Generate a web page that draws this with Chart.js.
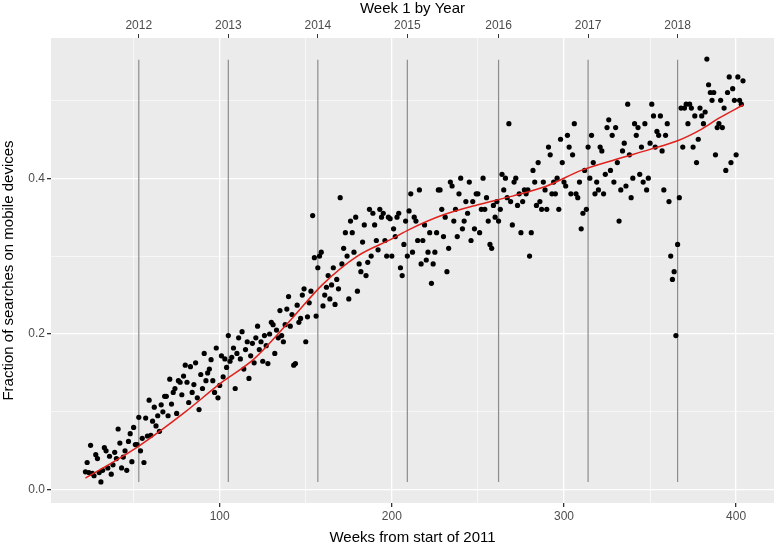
<!DOCTYPE html>
<html><head><meta charset="utf-8">
<script src="https://cdn.jsdelivr.net/npm/chart.js@4/dist/chart.umd.min.js"></script>
<style>html,body{margin:0;padding:0;background:#fff}#c{display:block}</style>
</head><body><canvas id="c" width="778" height="547"></canvas>
<script>
const firstWeek = 22;
const fractionValues = [
.023,.035,.022,.057,.021,.018,.045,.040,.022,.010,
.025,.054,.050,.028,.043,.020,.032,.048,.040,.078,
.060,.028,.042,.050,.025,.062,.072,.036,.080,.058,
.058,.093,.050,.066,.035,.092,.069,.115,.070,.088,
.106,.082,.095,.075,.109,.100,.120,.120,.095,.142,
.110,.125,.130,.098,.140,.138,.122,.146,.160,.138,
.112,.158,.125,.135,.163,.118,.103,.148,.130,.175,
.140,.150,.155,.167,.140,.125,.182,.118,.134,.172,
.145,.168,.157,.198,.165,.170,.182,.130,.175,.195,
.168,.203,.155,.180,.190,.143,.172,.188,.163,.195,
.210,.180,.190,.165,.198,.185,.162,.200,.215,.212,
.175,.205,.195,.230,.198,.190,.212,.232,.248,.210,
.225,.160,.162,.237,.215,.220,.250,.258,.190,.222,
.240,.255,.352,.298,.223,.285,.300,.305,.236,.250,
.260,.275,.245,.263,.285,.238,.270,.258,.375,.290,
.310,.330,.300,.245,.345,.330,.305,.350,.255,.290,
.280,.318,.340,.275,.292,.360,.300,.355,.340,.320,
.308,.360,.350,.355,.320,.300,.350,.348,.300,.335,
.325,.350,.355,.285,.275,.315,.345,.300,.358,.380,
.305,.350,.345,.320,.385,.290,.320,.340,.295,.305,
.330,.265,.290,.305,.330,.385,.385,.360,.325,.350,
.280,.310,.395,.390,.345,.360,.325,.380,.400,.335,
.345,.370,.355,.395,.320,.370,.335,.380,.380,.330,
.360,.400,.360,.375,.345,.315,.310,.365,.350,.370,
.345,.360,.405,.385,.400,.375,.470,.370,.340,.395,
.400,.365,.380,.330,.370,.385,.380,.385,.300,.330,
.410,.395,.365,.420,.370,.360,.395,.385,.360,.440,
.430,.380,.395,.380,.400,.360,.450,.420,.395,.390,
.455,.440,.380,.430,.470,.380,.375,.395,.335,.355,
.410,.360,.440,.400,.455,.420,.380,.395,.385,.440,
.435,.380,.405,.465,.475,.410,.455,.395,.465,.420,
.345,.385,.435,.445,.390,.495,.430,.375,.400,.470,
.455,.465,.405,.440,.395,.470,.385,.400,.445,.495,
.480,.440,.460,.455,.480,.435,.385,.455,.470,.370,
.300,.270,.280,.198,.315,.375,.490,.440,.490,.495,
.470,.495,.490,.440,.480,.420,.450,.490,.480,.470,
.485,.553,.520,.510,.500,.510,.430,.465,.470,.500,
.465,.490,.410,.510,.530,.420,.515,.500,.430,.530,
.500,.495,.525];
const trendWeeks = [22,40,53,80,100,120,140,160,180,200,210,230,250,270,290,310,330,350,366,380,390,404];
const trendValues = [.015,.038,.056,.100,.136,.168,.215,.264,.300,.322,.334,.353,.366,.377,.390,.410,.424,.437,.448,.463,.477,.494];
const yearWeeks = [53,105,157,209,262,314,366];
const yearLabels = ['2012','2013','2014','2015','2016','2017','2018'];
const xTicks = [50,100,150,200,250,300,350,400];
const yTicks = [0,0.1,0.2,0.3,0.4,0.5];
const yearLineBottom = 0.01, yearLineTop = 0.552;

const points = fractionValues.map((v,i)=>({x:firstWeek+i,y:v}));
const trend = trendWeeks.map((w,i)=>({x:w,y:trendValues[i]}));
const yearLineSets = yearWeeks.map(w=>({type:'line',data:[{x:w,y:yearLineBottom},{x:w,y:yearLineTop}],borderColor:'#8c8c8c',borderWidth:1.2,pointRadius:0,order:3}));

const bg = {id:'bg',beforeDraw(c){const a=c.chartArea,ctx=c.ctx;ctx.save();ctx.fillStyle='#EBEBEB';ctx.fillRect(a.left,a.top,a.right-a.left,a.bottom-a.top);ctx.restore();}};
const font = 'Liberation Sans, Arial, sans-serif';
const isMajorX = v => v % 100 === 0;
const isMajorY = v => Math.abs(v*10 % 2) < 1e-6 || Math.abs(v*10 % 2 - 2) < 1e-6;

new Chart(document.getElementById('c'),{
  type:'scatter',
  data:{datasets:[
    ...yearLineSets,
    {type:'scatter',data:points,backgroundColor:'#000',borderWidth:0,pointRadius:2.6,order:2},
    {type:'line',data:trend,borderColor:'#e0201b',borderWidth:1.5,pointRadius:0,cubicInterpolationMode:'monotone',order:1}
  ]},
  plugins:[bg],
  options:{
    responsive:false,animation:false,
    layout:{padding:{left:0,right:3,top:0,bottom:0}},
    plugins:{legend:{display:false},tooltip:{enabled:false}},
    scales:{
      x:{type:'linear',position:'bottom',min:2,max:422,
        afterBuildTicks(s){s.ticks=xTicks.map(v=>({value:v}));},
        afterFit(s){s.height=44;},
        ticks:{callback:v=>isMajorX(v)?String(v):'',color:'#4D4D4D',font:{family:font,size:12},padding:2,maxRotation:0,autoSkip:false},
        grid:{color:'#ffffff',lineWidth:c=>isMajorX(c.tick.value)?1.3:0.6,tickLength:4,tickColor:c=>isMajorX(c.tick.value)?'#333':'rgba(0,0,0,0)',drawOnChartArea:true},
        border:{display:false},
        title:{display:true,text:'Weeks from start of 2011',color:'#000',font:{family:font,size:15},padding:{top:2,bottom:0}}},
      x2:{type:'linear',position:'top',min:2,max:422,
        afterBuildTicks(s){s.ticks=yearWeeks.map(v=>({value:v}));},
        afterFit(s){s.height=38;},
        ticks:{callback:(v,i)=>yearLabels[i],color:'#4D4D4D',font:{family:font,size:12},padding:1,maxRotation:0,autoSkip:false},
        grid:{drawOnChartArea:false,tickLength:4,tickColor:'#333'},
        border:{display:false},
        title:{display:true,text:'Week 1 by Year',color:'#000',font:{family:font,size:15},padding:{top:0,bottom:0}}},
      y:{type:'linear',min:-0.017,max:0.58,
        afterBuildTicks(s){s.ticks=yTicks.map(v=>({value:v}));},
        afterFit(s){s.width=51;},
        ticks:{callback:v=>isMajorY(v)?v.toFixed(1):'',color:'#4D4D4D',font:{family:font,size:12},padding:2,autoSkip:false},
        grid:{color:'#ffffff',lineWidth:c=>isMajorY(c.tick.value)?1.3:0.6,tickLength:4,tickColor:c=>isMajorY(c.tick.value)?'#333':'rgba(0,0,0,0)'},
        border:{display:false},
        title:{display:true,text:'Fraction of searches on mobile devices',color:'#000',font:{family:font,size:15},padding:{top:0,bottom:2}}}
    }
  }
});
</script></body></html>
